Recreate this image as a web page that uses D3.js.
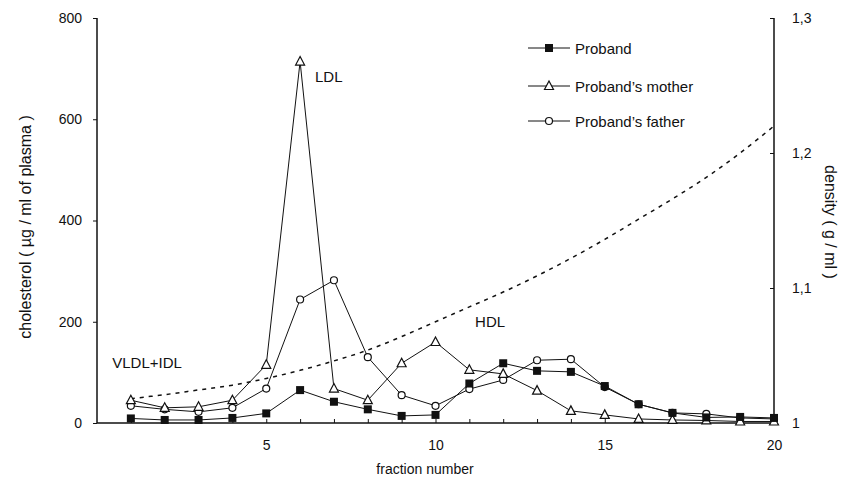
<!DOCTYPE html>
<html>
<head>
<meta charset="utf-8">
<script src="https://cdn.jsdelivr.net/npm/d3@7"></script>
<style>
  html, body { margin: 0; padding: 0; background: #fff; }
  svg text { font-family: "Liberation Sans", Arial, sans-serif; fill: #111; }
</style>
</head>
<body>
<svg id="chart" width="844" height="486"></svg>
<script>
const fractions = [1,2,3,4,5,6,7,8,9,10,11,12,13,14,15,16,17,18,19,20];
const proband = [9,6,6,10,19,65,42,27,14,16,78,118,103,101,73,37,20,11,12,10];
const mother  = [45,30,32,45,115,714,68,45,118,160,105,97,64,24,16,8,6,5,3,3];
const father  = [34,27,22,30,68,244,282,130,55,34,67,85,124,126,71,37,20,18,10,8];
const density = [1.018,1.021,1.0245,1.028,1.033,1.039,1.046,1.054,1.064,1.075,1.086,1.097,1.109,1.122,1.136,1.151,1.166,1.182,1.200,1.220];
const xTickLabels = [5,10,15,20];
const yTicks = [0,200,400,600,800];
const y2Ticks = [1,1.1,1.2,1.3];
const seriesNames = ["Proband","Proband\u2019s mother","Proband\u2019s father"];
const annotations = [
  {text:"LDL", x:6.44, y:673},
  {text:"VLDL+IDL", x:0.45, y:109},
  {text:"HDL", x:11.17, y:190}
];

const svg = d3.select("#chart");
const m = {left:97, top:18, right:70, bottom:63};
const W = 844, H = 486;
const x = d3.scaleLinear().domain([0,20]).range([m.left, W - m.right]);
const y = d3.scaleLinear().domain([0,800]).range([H - m.bottom, m.top]);
const y2 = d3.scaleLinear().domain([1,1.3]).range([H - m.bottom, m.top]);

const ink = "#111";

// Axes
const gx = svg.append("g").attr("transform", `translate(0,${H - m.bottom})`)
  .call(d3.axisBottom(x).tickValues(fractions).tickSize(-4).tickFormat(""));
svg.append("g").attr("transform", `translate(0,${H - m.bottom})`)
  .call(d3.axisBottom(x).tickValues(xTickLabels).tickSize(0).tickPadding(17))
  .call(g => g.select(".domain").remove())
  .selectAll("text").attr("font-size", 14).attr("fill", ink);

const gy = svg.append("g").attr("transform", `translate(${m.left},0)`)
  .call(d3.axisLeft(y).tickValues(yTicks).tickSize(4).tickPadding(11).tickFormat(d3.format("d")));
gy.selectAll("text").attr("font-size", 14).attr("fill", ink);

const gy2 = svg.append("g").attr("transform", `translate(${W - m.right},0)`)
  .call(d3.axisRight(y2).tickValues(y2Ticks).tickSize(-4).tickPadding(18)
    .tickFormat(d => d === 1 ? "1" : d3.format(".1f")(d).replace(".", ",")));
gy2.selectAll("text").attr("font-size", 14).attr("fill", ink);

[gx, gy, gy2].forEach(g => {
  g.select(".domain").attr("stroke", ink).attr("stroke-width", 1.5);
  g.selectAll(".tick line").attr("stroke", ink).attr("stroke-width", 1);
});
gx.select(".domain").attr("d", `M${m.left},0H${W - m.right}`);
gy.select(".domain").attr("d", `M0,${y(800)}H0V${y(0)}`);
gy2.select(".domain").attr("d", `M0,${y2(1.3)}H0V${y2(1)}`);

// Axis titles
svg.append("text").attr("x", 425).attr("y", 474).attr("text-anchor", "middle")
  .attr("font-size", 14).text("fraction number");
svg.append("text").attr("transform", `translate(25,227) rotate(-90)`)
  .attr("text-anchor", "middle").attr("dominant-baseline", "central")
  .attr("font-size", 16).text("cholesterol ( \u00b5g / ml of plasma )");
svg.append("text").attr("transform", `translate(830,222) rotate(90)`)
  .attr("text-anchor", "middle").attr("dominant-baseline", "central")
  .attr("font-size", 16).text("density ( g / ml )");

// Density dashed curve
svg.append("path")
  .datum(fractions.map((f,i) => [f, density[i]]))
  .attr("fill", "none").attr("stroke", ink).attr("stroke-width", 1.5)
  .attr("stroke-dasharray", "4,5")
  .attr("d", d3.line().x(d => x(d[0])).y(d => y2(d[1])).curve(d3.curveCatmullRom));

const line = d3.line().x(d => x(d[0])).y(d => y(d[1]));
const series = [
  {name: seriesNames[2], values: father, type: "circle"},
  {name: seriesNames[1], values: mother, type: "triangle"},
  {name: seriesNames[0], values: proband, type: "square"}
];

function drawMarker(g, type, cx, cy) {
  if (type === "square") {
    g.append("rect").attr("x", cx - 4).attr("y", cy - 4).attr("width", 8).attr("height", 8)
      .attr("fill", ink);
  } else if (type === "triangle") {
    g.append("path").attr("d", `M${cx},${cy-5}L${cx+4.5},${cy+3.5}L${cx-4.5},${cy+3.5}Z`)
      .attr("fill", "#fff").attr("stroke", ink).attr("stroke-width", 1.2);
  } else {
    g.append("circle").attr("cx", cx).attr("cy", cy).attr("r", 3.5)
      .attr("fill", "#fff").attr("stroke", ink).attr("stroke-width", 1.2);
  }
}

series.forEach(s => {
  const pts = fractions.map((f,i) => [f, s.values[i]]);
  svg.append("path").datum(pts).attr("fill", "none").attr("stroke", ink)
    .attr("stroke-width", 1).attr("d", line);
});
series.forEach(s => {
  const g = svg.append("g");
  fractions.forEach((f,i) => drawMarker(g, s.type, x(f), y(s.values[i])));
});

// Annotations
annotations.forEach(a => {
  svg.append("text").attr("x", x(a.x)).attr("y", y(a.y)).attr("font-size", 15).text(a.text);
});

// Legend
const legend = [
  {name: seriesNames[0], type: "square"},
  {name: seriesNames[1], type: "triangle"},
  {name: seriesNames[2], type: "circle"}
];
const ly = [48, 86, 121];
legend.forEach((l, i) => {
  const g = svg.append("g");
  g.append("line").attr("x1", 528).attr("x2", 570).attr("y1", ly[i]).attr("y2", ly[i])
    .attr("stroke", ink).attr("stroke-width", 1);
  drawMarker(g, l.type, 549, ly[i]);
  g.append("text").attr("x", 575).attr("y", ly[i]).attr("dominant-baseline", "central")
    .attr("font-size", 15).text(l.name);
});
</script>
</body>
</html>
